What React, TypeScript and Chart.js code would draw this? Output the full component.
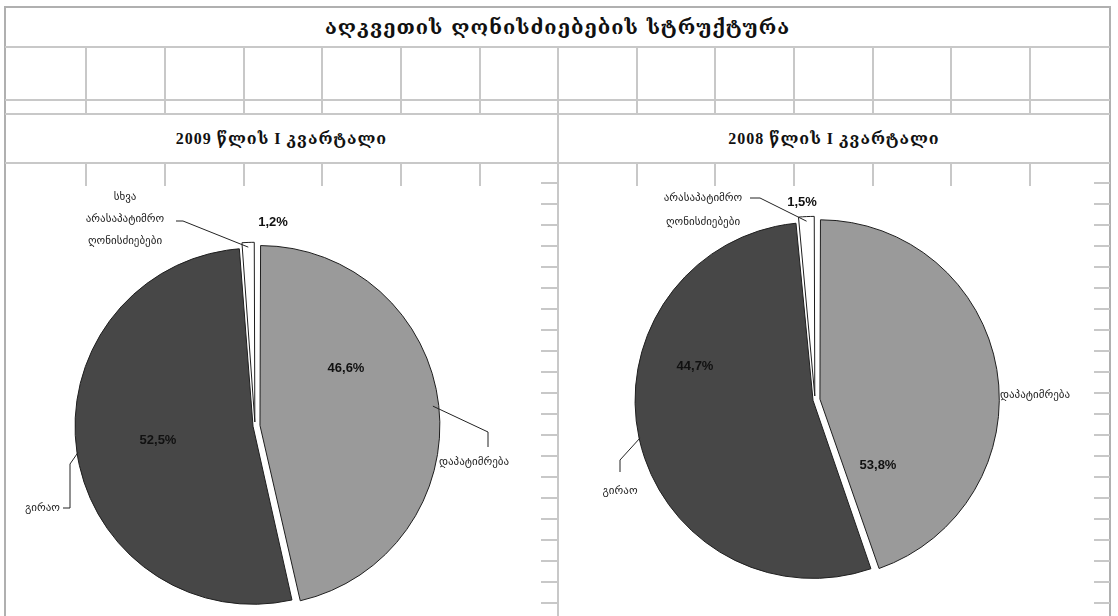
import React, { useEffect, useRef } from "react";
import { Chart, registerables } from "chart.js";

Chart.register(...registerables);

// ---------- data ----------
const mainTitle = "აღკვეთის ღონისძიებების სტრუქტურა";
const categories = ["დაპატიმრება", "გირაო", "სხვა არასაპატიმრო ღონისძიებები"];

const title2009 = "2009 წლის I კვარტალი";
const share2009 = [46.6, 52.5, 1.2];
const pctLabels2009 = ["46,6%", "52,5%", "1,2%"];

const title2008 = "2008 წლის I კვარტალი";
const share2008 = [44.7, 53.8, 1.5];
const pctLabels2008 = ["53,8%", "44,7%", "1,5%"];

const sliceColors = ["#9a9a9a", "#474747", "#ffffff"];
const sliceOffsets = [20, 8, 16];

// ---------- layout (positions relative to pie centre) ----------
type Pt = [number, number];
type Spec = {
  pct: Pt;
  cat: { lines: string[]; at: Pt; align: CanvasTextAlign; gap: number };
  leader: Pt[] | null;
};

const layout2009: Spec[] = [
  { pct: [91, -58], cat: { lines: [categories[0]], at: [219, 36], align: "center", gap: 0 }, leader: [[233, 6], [233, 21]] },
  { pct: [-97, 14], cat: { lines: [categories[1]], at: [-195, 82], align: "right", gap: 0 }, leader: [[-185, 38], [-185, 82], [-192, 82]] },
  { pct: [18, -204], cat: { lines: ["სხვა", "არასაპატიმრო", "ღონისძიებები"], at: [-130, -229], align: "center", gap: 22 }, leader: [[-72, -205], [-79, -205]] },
];

const layout2008: Spec[] = [
  { pct: [63, 65], cat: { lines: [categories[0]], at: [185, -5], align: "left", gap: 0 }, leader: null },
  { pct: [-120, -34], cat: { lines: [categories[1]], at: [-195, 91], align: "center", gap: 0 }, leader: [[-195, 60], [-195, 72]] },
  { pct: [-13, -198], cat: { lines: ["არასაპატიმრო", "ღონისძიებები"], at: [-112, -202], align: "center", gap: 24 }, leader: [[-55, -202], [-65, -202]] },
];

const labelPlugin = {
  id: "pieLabels",
  afterDatasetsDraw(chart: any) {
    const spec: Spec[] = chart.options.plugins.pieLabels.spec;
    const pcts: string[] = chart.options.plugins.pieLabels.pcts;
    const ctx: CanvasRenderingContext2D = chart.ctx;
    const meta = chart.getDatasetMeta(0);
    meta.data.forEach((arc: any, i: number) => {
      const { x, y, startAngle, endAngle, outerRadius } = arc.getProps(
        ["x", "y", "startAngle", "endAngle", "outerRadius"],
        true
      );
      const s = spec[i];
      const mid = (startAngle + endAngle) / 2;
      ctx.save();
      if (s.leader) {
        const r = outerRadius + 3;
        ctx.beginPath();
        ctx.moveTo(x + Math.cos(mid) * r, y + Math.sin(mid) * r);
        s.leader.forEach(([dx, dy]) => ctx.lineTo(x + dx, y + dy));
        ctx.strokeStyle = "#222";
        ctx.lineWidth = 1;
        ctx.stroke();
      }
      ctx.fillStyle = "#111";
      ctx.font = "bold 13px 'Liberation Sans', Arial, sans-serif";
      ctx.textAlign = "center";
      ctx.textBaseline = "middle";
      ctx.fillText(pcts[i], x + s.pct[0], y + s.pct[1]);
      ctx.fillStyle = "#222";
      ctx.font = "11px 'DejaVu Sans', sans-serif";
      ctx.textAlign = s.cat.align;
      s.cat.lines.forEach((ln, k) => {
        ctx.fillText(ln, x + s.cat.at[0], y + s.cat.at[1] + k * s.cat.gap);
      });
      ctx.restore();
    });
  },
};

function PieCanvas(props: {
  values: number[];
  pcts: string[];
  spec: Spec[];
  left: number;
  top: number;
  width: number;
  height: number;
  padding: { left: number; right: number; top: number; bottom: number };
}) {
  const ref = useRef<HTMLCanvasElement>(null);
  useEffect(() => {
    if (!ref.current) return;
    const chart = new Chart(ref.current, {
      type: "pie",
      data: {
        labels: categories,
        datasets: [
          {
            data: props.values,
            backgroundColor: sliceColors,
            borderColor: "#1e1e1e",
            borderWidth: 1,
            offset: sliceOffsets,
          } as any,
        ],
      },
      options: {
        animation: false,
        responsive: false,
        devicePixelRatio: 1,
        radius: 176,
        layout: { padding: props.padding },
        plugins: {
          legend: { display: false },
          tooltip: { enabled: false },
          title: { display: false },
          pieLabels: { spec: props.spec, pcts: props.pcts },
        } as any,
      } as any,
      plugins: [labelPlugin],
    });
    return () => chart.destroy();
  }, []);
  return (
    <canvas
      ref={ref}
      width={props.width}
      height={props.height}
      style={{
        position: "absolute",
        left: props.left,
        top: props.top,
        width: props.width,
        height: props.height,
        background: "#fff",
      }}
    />
  );
}

const gridColor = "#c8c8c8";
const colXs = [85, 164, 243, 321, 400, 479, 636, 714, 793, 872, 950, 1029];
const rowYs = [46, 99, 113, 162];
const stubYs: number[] = [];
for (let yy = 182; yy < 616; yy += 21) stubYs.push(yy);

function Line(p: { x: number; y: number; w: number; h: number; c?: string }) {
  return (
    <div
      style={{
        position: "absolute",
        left: p.x,
        top: p.y,
        width: p.w,
        height: p.h,
        background: p.c || gridColor,
      }}
    />
  );
}

export default function App() {
  const georgianBold = "'DejaVu Serif', 'DejaVu Sans', serif";
  return (
    <div
      style={{
        position: "fixed",
        left: 0,
        top: 0,
        width: 1118,
        height: 616,
        background: "#fff",
        overflow: "hidden",
      }}
    >
      <Line x={4} y={6} w={1107} h={2} c="#b0b0b0" />
      <Line x={4} y={6} w={2} h={610} c="#b0b0b0" />
      <Line x={1109} y={6} w={2} h={610} c="#b0b0b0" />
      {rowYs.map((yy) => (
        <Line key={"r" + yy} x={5} y={yy} w={1105} h={2} />
      ))}
      {colXs.map((xx) => (
        <Line key={"c" + xx} x={xx} y={46} w={2} h={67} />
      ))}
      {colXs.map((xx) => (
        <Line key={"s" + xx} x={xx} y={162} w={2} h={24} />
      ))}
      <Line x={557} y={46} w={2} h={570} />
      {stubYs.map((yy) => (
        <React.Fragment key={"h" + yy}>
          <Line x={541} y={yy} w={17} h={2} />
          <Line x={1094} y={yy} w={16} h={2} />
        </React.Fragment>
      ))}
      <div
        style={{
          position: "absolute",
          left: 6,
          top: 8,
          width: 1103,
          height: 38,
          lineHeight: "38px",
          textAlign: "center",
          fontFamily: georgianBold,
          fontWeight: "bold",
          fontSize: 20,
          letterSpacing: 1,
          color: "#111",
        }}
      >
        {mainTitle}
      </div>
      <div
        style={{
          position: "absolute",
          left: 6,
          top: 115,
          width: 551,
          height: 47,
          lineHeight: "47px",
          textAlign: "center",
          fontFamily: "'Liberation Serif', " + georgianBold,
          fontWeight: "bold",
          fontSize: 16,
          letterSpacing: 1,
          color: "#111",
        }}
      >
        {title2009}
      </div>
      <div
        style={{
          position: "absolute",
          left: 559,
          top: 115,
          width: 550,
          height: 47,
          lineHeight: "47px",
          textAlign: "center",
          fontFamily: "'Liberation Serif', " + georgianBold,
          fontWeight: "bold",
          fontSize: 16,
          letterSpacing: 1,
          color: "#111",
        }}
      >
        {title2008}
      </div>
      <PieCanvas
        values={share2009}
        pcts={pctLabels2009}
        spec={layout2009}
        left={6}
        top={186}
        width={534}
        height={430}
        padding={{ left: 0, right: 36, top: 50, bottom: 0 }}
      />
      <PieCanvas
        values={share2008}
        pcts={pctLabels2008}
        spec={layout2008}
        left={559}
        top={186}
        width={535}
        height={430}
        padding={{ left: 0, right: 23, top: 0, bottom: 2 }}
      />
    </div>
  );
}
